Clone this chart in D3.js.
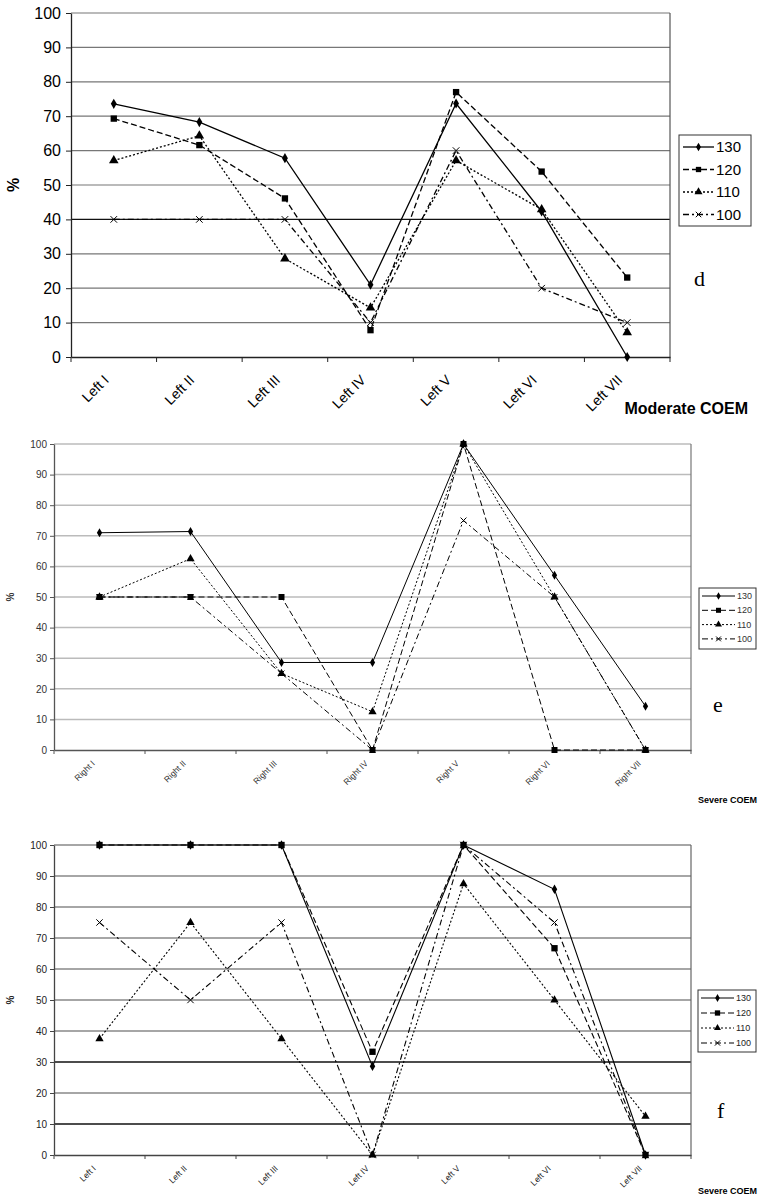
<!DOCTYPE html>
<html>
<head>
<meta charset="utf-8">
<script src="https://cdn.jsdelivr.net/npm/d3@7"></script>
<style>
  body { margin: 0; background: #fff; }
  svg { display: block; font-family: Arial, "Liberation Sans", sans-serif; }
</style>
</head>
<body>
<div id="app"></div>
<script>
const W = 759, H = 1200;

const series = ["130", "120", "110", "100"];
const leftCats = ["Left I", "Left II", "Left III", "Left IV", "Left V", "Left VI", "Left VII"];
const rightCats = ["Right I", "Right II", "Right III", "Right IV", "Right V", "Right VI", "Right VII"];
const yTicks = [0, 10, 20, 30, 40, 50, 60, 70, 80, 90, 100];

// panel d - moderate COEM, left
const d130 = [73.6, 68.3, 57.8, 21.0, 73.7, 42.3, 0];
const d120 = [69.3, 61.6, 46.1, 7.8, 77.0, 53.9, 23.1];
const d110 = [57.1, 64.3, 28.6, 14.3, 57.1, 42.9, 7.1];
const d100 = [40, 40, 40, 10, 60, 20, 10];

// panel e - severe COEM, right
const e130 = [71.0, 71.4, 28.6, 28.6, 100, 57.1, 14.3];
const e120 = [50, 50, 50, 0, 100, 0, 0];
const e110 = [50, 62.5, 25, 12.5, 100, 50, 0];
const e100 = [50, 50, 25, 0, 75, 50, 0];

// panel f - severe COEM, left
const f130 = [100, 100, 100, 28.6, 100, 85.7, 0];
const f120 = [100, 100, 100, 33.3, 100, 66.7, 0];
const f110 = [37.5, 75, 37.5, 0, 87.5, 50, 12.5];
const f100 = [75, 50, 75, 0, 100, 75, 0];

const dashes = { "130": null, "120": "6,3", "110": "2,2", "100": "6,3,2,3" };
const symbols = { "130": d3.symbolDiamond, "120": d3.symbolSquare, "110": d3.symbolTriangle, "100": d3.symbolX };

const svg = d3.select("#app").append("svg")
  .attr("width", W)
  .attr("height", H);

function drawPanel(p) {
  const g = svg.append("g");

  const x = d3.scaleBand().domain(p.cats).range([p.x0, p.x1]);
  const y = d3.scaleLinear().domain([0, 100]).range([p.y0, p.y1]);

  // gridlines
  g.selectAll("line.grid")
    .data(yTicks.filter(t => t > 0))
    .join("line")
    .attr("class", "grid")
    .attr("x1", p.x0).attr("x2", p.x1)
    .attr("y1", d => y(d)).attr("y2", d => y(d))
    .style("stroke", d => p.darkGrid.includes(d) ? "#111" : p.gridColor)
    .style("stroke-width", p.gridWidth);

  // right border of plot
  g.append("line")
    .attr("x1", p.x1).attr("x2", p.x1)
    .attr("y1", y(0)).attr("y2", y(100))
    .style("stroke", p.borderColor)
    .style("stroke-width", 1.2);

  // y axis
  const yAxis = g.append("g")
    .attr("transform", `translate(${p.x0},0)`)
    .call(d3.axisLeft(y).tickValues(yTicks).tickSize(p.tickLen).tickSizeOuter(0).tickPadding(p.tickPad));
  yAxis.select(".domain").style("stroke", p.axisColor).style("stroke-width", 1.3);
  yAxis.selectAll(".tick line").style("stroke", p.axisColor);
  yAxis.selectAll("text")
    .style("font-size", p.yFont + "px")
    .style("fill", p.textColor);

  // x axis
  const xAxis = g.append("g")
    .attr("transform", `translate(0,${y(0)})`)
    .call(d3.axisBottom(x).tickSize(0).tickFormat(""));
  xAxis.select(".domain").style("stroke", p.axisColor).style("stroke-width", 1.3);
  const edges = p.cats.map(c => x(c)).concat([p.x1]);
  g.selectAll("line.xtick")
    .data(edges)
    .join("line")
    .attr("class", "xtick")
    .attr("x1", d => d).attr("x2", d => d)
    .attr("y1", y(0)).attr("y2", y(0) + p.tickLen)
    .style("stroke", p.axisColor);

  g.selectAll("text.xlab")
    .data(p.cats)
    .join("text")
    .attr("class", "xlab")
    .attr("transform", d => `translate(${x(d) + x.bandwidth() / 2 + p.xLabDx},${y(0) + p.xLabDy}) rotate(-45)`)
    .attr("text-anchor", "end")
    .style("font-size", p.xFont + "px")
    .style("fill", p.textColor)
    .text(d => d);

  // y label
  g.append("text")
    .attr("transform", `translate(${p.pctX},${(y(0) + y(100)) / 2}) rotate(-90)`)
    .attr("text-anchor", "middle")
    .style("font-size", p.pctFont + "px")
    .style("font-weight", "bold")
    .style("fill", p.textColor)
    .text("%");

  // lines
  const line = d3.line()
    .x((d, i) => x(p.cats[i]) + x.bandwidth() / 2)
    .y(d => y(d));

  series.forEach((s, k) => {
    const vals = p.values[k];
    g.append("path")
      .datum(vals)
      .attr("d", line)
      .style("fill", "none")
      .style("stroke", "#000")
      .style("stroke-width", p.lineWidth)
      .style("stroke-dasharray", dashes[s]);
    g.selectAll(null)
      .data(vals)
      .join("path")
      .attr("transform", (d, i) => `translate(${x(p.cats[i]) + x.bandwidth() / 2},${y(d)})`)
      .attr("d", d3.symbol().type(symbols[s]).size(p.symSize[k]))
      .style("fill", s === "100" ? "none" : "#000")
      .style("stroke", "#000")
      .style("stroke-width", s === "100" ? 1 : 0);
  });

  // legend
  const lg = g.append("g").attr("transform", `translate(${p.leg.x},${p.leg.y})`);
  lg.append("rect")
    .attr("width", p.leg.w).attr("height", p.leg.h)
    .style("fill", "#fff")
    .style("stroke", "#333")
    .style("stroke-width", 1);
  series.forEach((s, k) => {
    const ry = p.leg.top + k * p.leg.step;
    lg.append("line")
      .attr("x1", p.leg.l0).attr("x2", p.leg.l1)
      .attr("y1", ry).attr("y2", ry)
      .style("stroke", "#000")
      .style("stroke-width", p.lineWidth)
      .style("stroke-dasharray", dashes[s]);
    lg.append("path")
      .attr("transform", `translate(${(p.leg.l0 + p.leg.l1) / 2},${ry})`)
      .attr("d", d3.symbol().type(symbols[s]).size(p.symSize[k] * 0.7))
      .style("fill", s === "100" ? "none" : "#000")
      .style("stroke", "#000")
      .style("stroke-width", s === "100" ? 1 : 0);
    lg.append("text")
      .attr("x", p.leg.l1 + 2)
      .attr("y", ry)
      .attr("dy", "0.35em")
      .style("font-size", p.leg.font + "px")
      .style("fill", p.textColor)
      .text(s);
  });

  // panel letter
  g.append("text")
    .attr("x", p.letter.x).attr("y", p.letter.y)
    .style("font-family", "'Liberation Serif', 'DejaVu Serif', serif")
    .style("font-size", p.letter.size + "px")
    .text(p.letter.t);

  // group caption
  g.append("text")
    .attr("x", p.caption.x).attr("y", p.caption.y)
    .attr("text-anchor", "end")
    .style("font-size", p.caption.size + "px")
    .style("font-weight", "bold")
    .text(p.caption.t);
}

drawPanel({
  cats: leftCats, values: [d130, d120, d110, d100],
  x0: 71, x1: 670, y0: 357, y1: 13,
  gridColor: "#777", darkGrid: [40], gridWidth: 1.2,
  borderColor: "#555", axisColor: "#222", textColor: "#000",
  tickLen: 5, tickPad: 5, yFont: 16, xFont: 14, xLabDx: -4, xLabDy: 24,
  pctX: 19, pctFont: 16, lineWidth: 1.3, symSize: [30, 40, 40, 30],
  leg: { x: 679, y: 135, w: 72, h: 91, top: 12, step: 22.5, l0: 4, l1: 35, font: 15 },
  letter: { x: 694, y: 286, size: 22, t: "d" },
  caption: { x: 748, y: 414, size: 16, t: "Moderate COEM" }
});

drawPanel({
  cats: rightCats, values: [e130, e120, e110, e100],
  x0: 54, x1: 691, y0: 750, y1: 444,
  gridColor: "#bbb", darkGrid: [], gridWidth: 1.5,
  borderColor: "#777", axisColor: "#555", textColor: "#333",
  tickLen: 4, tickPad: 3, yFont: 10, xFont: 8.5, xLabDx: -4, xLabDy: 14,
  pctX: 14, pctFont: 10, lineWidth: 1, symSize: [24, 36, 30, 24],
  leg: { x: 699, y: 588, w: 57, h: 61, top: 8, step: 14.3, l0: 3, l1: 36, font: 9 },
  letter: { x: 713, y: 712, size: 22, t: "e" },
  caption: { x: 757, y: 803, size: 9, t: "Severe COEM" }
});

drawPanel({
  cats: leftCats, values: [f130, f120, f110, f100],
  x0: 54, x1: 691, y0: 1155, y1: 845,
  gridColor: "#888", darkGrid: [10, 30], gridWidth: 1.3,
  borderColor: "#666", axisColor: "#444", textColor: "#222",
  tickLen: 4, tickPad: 3, yFont: 10, xFont: 8.5, xLabDx: -3, xLabDy: 14,
  pctX: 14, pctFont: 10, lineWidth: 1.1, symSize: [26, 40, 30, 28],
  leg: { x: 698, y: 990, w: 58, h: 62, top: 8, step: 15, l0: 3, l1: 36, font: 9 },
  letter: { x: 717, y: 1118, size: 22, t: "f" },
  caption: { x: 757, y: 1194, size: 9, t: "Severe COEM" }
});
</script>
</body>
</html>
